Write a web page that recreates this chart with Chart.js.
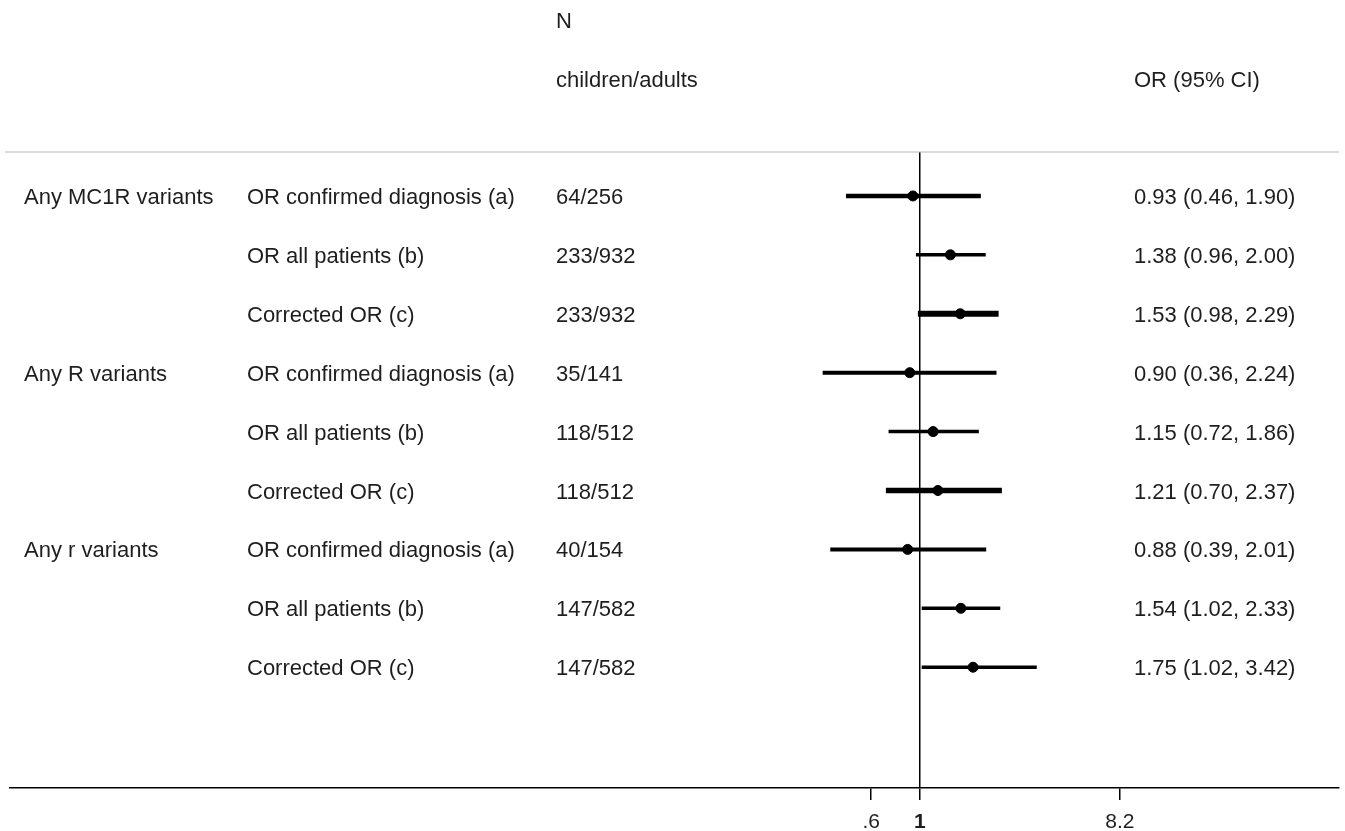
<!DOCTYPE html>
<html>
<head>
<meta charset="utf-8">
<script src="https://cdn.jsdelivr.net/npm/chart.js@4.4.1/dist/chart.umd.min.js"></script>
<style>
  html, body { margin: 0; padding: 0; background: #fff; }
  #wrap { width: 1345px; height: 831px; }
</style>
</head>
<body>
<div id="wrap"><canvas id="forest" width="1345" height="831"></canvas></div>
<script>
// Rows of the forest plot, top to bottom
const groups = ['Any MC1R variants', '', '', 'Any R variants', '', '', 'Any r variants', '', ''];
const analyses = [
  'OR confirmed diagnosis (a)', 'OR all patients (b)', 'Corrected OR (c)',
  'OR confirmed diagnosis (a)', 'OR all patients (b)', 'Corrected OR (c)',
  'OR confirmed diagnosis (a)', 'OR all patients (b)', 'Corrected OR (c)',
];
const counts = ['64/256', '233/932', '233/932', '35/141', '118/512', '118/512', '40/154', '147/582', '147/582'];
const oddsRatios = [0.93, 1.38, 1.53, 0.90, 1.15, 1.21, 0.88, 1.54, 1.75];
const ciLower    = [0.46, 0.96, 0.98, 0.36, 0.72, 0.70, 0.39, 1.02, 1.02];
const ciUpper    = [1.90, 2.00, 2.29, 2.24, 1.86, 2.37, 2.01, 2.33, 3.42];

// x axis ticks
const tickValues = [0.6, 1, 8.2];
const tickLabels = ['.6', '1', '8.2'];

// line weights of the CI bars (the corrected ones are drawn heavier)
const ciWidths = [4.5, 3.5, 6, 4, 3.5, 5.5, 4, 3.5, 3.5];

const FONT = "'Liberation Sans', Arial, sans-serif";
const TEXT = '#1e1e1e';
const rowIdx = oddsRatios.map((_, i) => i + 1);

const ciSets = rowIdx.map((r, i) => ({
  data: [{ x: ciLower[i], y: r }, { x: ciUpper[i], y: r }],
  showLine: true,
  borderColor: '#000',
  borderWidth: ciWidths[i],
  borderCapStyle: 'butt',
  pointRadius: 0,
  order: 2,
}));

const pointSet = {
  data: rowIdx.map((r, i) => ({ x: oddsRatios[i], y: r })),
  backgroundColor: '#000',
  borderColor: '#000',
  pointRadius: 5,
  pointStyle: 'circle',
  order: 1,
};

// text columns + top rule
const tablePlugin = {
  id: 'table',
  afterDraw(chart) {
    const { ctx, chartArea, scales } = chart;
    ctx.save();
    ctx.strokeStyle = '#b8b8b8';
    ctx.lineWidth = 1.2;
    ctx.beginPath();
    ctx.moveTo(5, chartArea.top);
    ctx.lineTo(chartArea.right, chartArea.top);
    ctx.stroke();

    ctx.fillStyle = TEXT;
    ctx.font = `22px ${FONT}`;
    ctx.textBaseline = 'middle';
    ctx.textAlign = 'left';
    ctx.fillText('N', 556, 22);
    ctx.fillText('children/adults', 556, 81);
    ctx.fillText('OR (95% CI)', 1134, 81);

    rowIdx.forEach((r, i) => {
      const y = scales.y.getPixelForValue(r) + 2;
      if (groups[i]) ctx.fillText(groups[i], 24, y);
      ctx.fillText(analyses[i], 247, y);
      ctx.fillText(counts[i], 556, y);
      const s = `${oddsRatios[i].toFixed(2)} (${ciLower[i].toFixed(2)}, ${ciUpper[i].toFixed(2)})`;
      ctx.fillText(s, 1134, y);
    });
    ctx.restore();
  },
};

new Chart(document.getElementById('forest'), {
  type: 'scatter',
  data: { datasets: [pointSet, ...ciSets] },
  options: {
    responsive: false,
    animation: false,
    layout: { padding: { top: 152, left: 10, right: 5, bottom: -14 } },
    plugins: { legend: { display: false }, tooltip: { enabled: false } },
    scales: {
      x: {
        type: 'logarithmic',
        min: 0.0000737,
        max: 82.1,
        afterBuildTicks(scale) {
          scale.ticks = tickValues.map(v => ({ value: v }));
        },
        ticks: {
          autoSkip: false,
          maxRotation: 0,
          padding: 12,
          color: TEXT,
          font: ctx => ({
            family: FONT,
            size: 21,
            lineHeight: 1,
            weight: ctx.tick && ctx.tick.value === 1 ? 'bold' : 'normal',
          }),
          callback: (v, i) => tickLabels[i],
        },
        grid: {
          drawOnChartArea: true,
          color: ctx => (ctx.tick && ctx.tick.value === 1 ? '#000' : 'rgba(0,0,0,0)'),
          tickColor: '#000',
          tickLength: 12,
          lineWidth: 1.5,
        },
        border: { display: true, color: '#000', width: 1.5 },
      },
      y: {
        display: false,
        reverse: true,
        min: 0.254,
        max: 11.05,
      },
    },
  },
  plugins: [tablePlugin],
});
</script>
</body>
</html>
